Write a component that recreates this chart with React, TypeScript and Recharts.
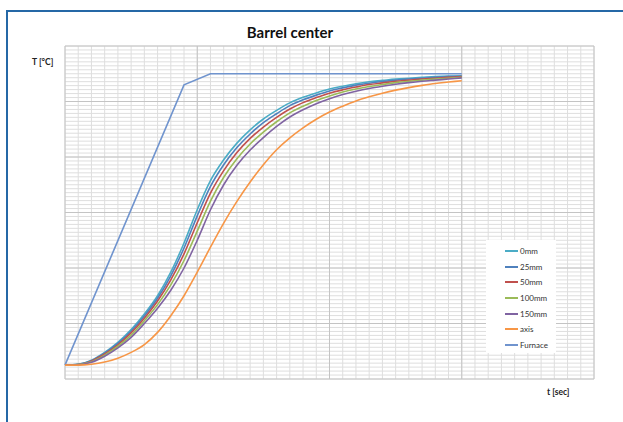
import React from 'react';
import { LineChart, Line, XAxis, YAxis, CartesianGrid, ReferenceLine } from 'recharts';

const T_SEC = [0, 10, 20, 30, 40, 50, 60, 70, 80, 90, 100, 110, 120, 130, 140, 150, 160, 170, 180, 190, 200, 210, 220, 230, 240, 250, 260, 270, 280, 290, 300];

const MM0 = [50, 53, 68, 96, 132, 178, 234, 300, 385, 490, 610, 715, 790, 850, 898, 937, 968, 995, 1015, 1031, 1045, 1055, 1064, 1071, 1076, 1081, 1084, 1087, 1090, 1092, 1093];
const MM25 = [50, 53, 66, 93, 128, 172, 227, 291, 372, 472, 588, 694, 772, 834, 883, 924, 956, 985, 1006, 1023, 1038, 1049, 1059, 1066, 1072, 1077, 1081, 1084, 1087, 1090, 1091];
const MM50 = [50, 52, 65, 90, 123, 166, 219, 281, 357, 451, 563, 670, 751, 816, 867, 908, 943, 973, 996, 1014, 1030, 1042, 1052, 1061, 1067, 1073, 1077, 1081, 1084, 1087, 1090];
const MM100 = [50, 52, 62, 86, 118, 158, 210, 268, 339, 427, 533, 641, 727, 794, 847, 890, 927, 959, 983, 1004, 1020, 1034, 1045, 1054, 1061, 1068, 1073, 1077, 1081, 1084, 1087];
const MM150 = [50, 51, 60, 82, 112, 150, 200, 255, 320, 400, 500, 610, 700, 770, 825, 870, 910, 944, 970, 992, 1010, 1025, 1037, 1047, 1055, 1062, 1068, 1073, 1077, 1081, 1085];
const AXIS = [50, 50, 53, 61, 75, 96, 124, 168, 228, 300, 385, 475, 562, 640, 710, 772, 826, 869, 905, 936, 962, 983, 1002, 1017, 1030, 1041, 1050, 1058, 1065, 1070, 1075];

const FURNACE_T = [0, 90, 110, 300];
const FURNACE_TEMP = [50, 1060, 1100, 1100];

const SERIES = [
  { key: 'mm0', name: '0mm', color: '#4BACC6' },
  { key: 'mm25', name: '25mm', color: '#4F81BD' },
  { key: 'mm50', name: '50mm', color: '#C0504D' },
  { key: 'mm100', name: '100mm', color: '#9BBB59' },
  { key: 'mm150', name: '150mm', color: '#8064A2' },
  { key: 'axis', name: 'axis', color: '#F79646' },
];
const FURNACE_COLOR = '#7094CE';

const data = T_SEC.map((t, i) => ({
  t,
  mm0: MM0[i],
  mm25: MM25[i],
  mm50: MM50[i],
  mm100: MM100[i],
  mm150: MM150[i],
  axis: AXIS[i],
}));

const furnaceData = FURNACE_T.map((t, i) => ({ t, furnace: FURNACE_TEMP[i] }));

const X_MINOR = Array.from({ length: 41 }, (_, i) => i * 10);
const X_MAJOR = [100, 200, 300];
const Y_MINOR = Array.from({ length: 85 }, (_, i) => (i * 1200) / 84);
const Y_MAJOR = [200, 400, 600, 800, 1000];

const FONT = 'Lato, "Open Sans", sans-serif';

const LegendBox = () => {
  const items = [...SERIES.map(s => ({ name: s.name, color: s.color })), { name: 'Furnace', color: FURNACE_COLOR }];
  return (
    <div style={{ position: 'absolute', left: 486, top: 240, background: '#fff', width: 70, height: 113, paddingTop: 3, boxSizing: 'border-box' }}>
      {items.map(it => (
        <div key={it.name} style={{ display: 'flex', alignItems: 'center', height: 15.7, fontFamily: FONT, fontSize: 8, color: '#333' }}>
          <div style={{ width: 13, height: 2, background: it.color, marginLeft: 19, marginRight: 2 }} />
          <span>{it.name}</span>
        </div>
      ))}
    </div>
  );
};

export default function App() {
  return (
    <div style={{ position: 'absolute', left: 0, top: 0, width: 623, height: 422, overflow: 'hidden', background: '#fff' }}>
      <div style={{ position: 'absolute', left: 6, top: 10, width: 700, height: 500, border: '2px solid #2568A6' }} />
      <div style={{ position: 'absolute', left: 0, top: 0 }}>
        <LineChart width={623} height={422} data={data} margin={{ top: 46, right: 29, bottom: 43, left: 65 }}>
          <CartesianGrid stroke="#DEDEDE" strokeWidth={1} />
          <XAxis dataKey="t" type="number" domain={[0, 400]} ticks={X_MINOR} interval={0} hide />
          <YAxis type="number" domain={[0, 1200]} ticks={Y_MINOR} interval={0} hide />
          {X_MAJOR.map(v => (
            <ReferenceLine key={`x${v}`} x={v} stroke="#C4C4C4" />
          ))}
          {Y_MAJOR.map(v => (
            <ReferenceLine key={`y${v}`} y={v} stroke="#C4C4C4" />
          ))}
          <ReferenceLine x={0} stroke="#C4C4C4" />
          <ReferenceLine x={400} stroke="#C4C4C4" />
          <ReferenceLine y={0} stroke="#C4C4C4" />
          <ReferenceLine y={1200} stroke="#C4C4C4" />
          <Line data={furnaceData} dataKey="furnace" name="Furnace" type="linear" stroke={FURNACE_COLOR} strokeWidth={1.6} dot={false} isAnimationActive={false} />
          {SERIES.map(s => (
            <Line key={s.key} dataKey={s.key} name={s.name} type="monotone" stroke={s.color} strokeWidth={1.6} dot={false} isAnimationActive={false} />
          ))}
        </LineChart>
      </div>
      <LegendBox />
      <div style={{ position: 'absolute', left: 0, width: 580, top: 23, textAlign: 'center', fontFamily: FONT, fontWeight: 700, fontSize: 15, color: '#111' }}>
        Barrel center
      </div>
      <div style={{ position: 'absolute', left: 32, top: 57, fontFamily: FONT, fontWeight: 700, fontSize: 8.5, color: '#222' }}>T [°C]</div>
      <div style={{ position: 'absolute', left: 547, top: 387, fontFamily: FONT, fontWeight: 700, fontSize: 8.5, color: '#222' }}>t [sec]</div>
    </div>
  );
}
